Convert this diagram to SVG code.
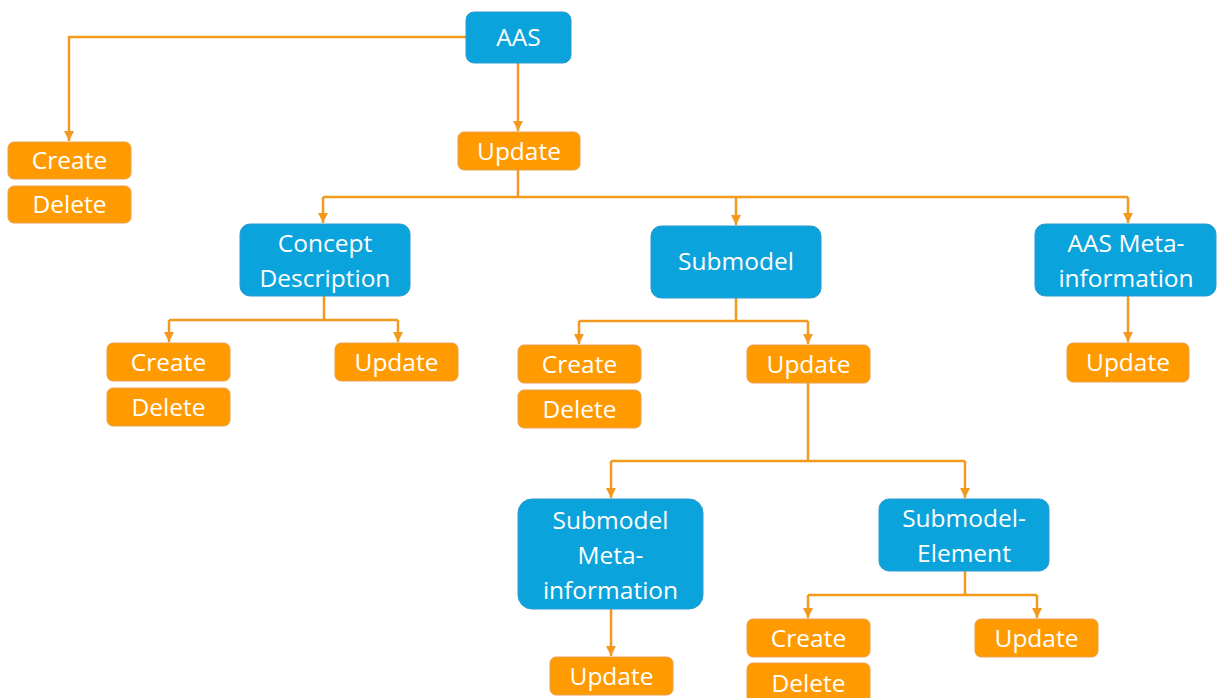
<svg xmlns="http://www.w3.org/2000/svg" width="1217" height="698" viewBox="0 0 1217 698">
  <defs>
    <marker id="arr" markerWidth="10" markerHeight="10" refX="10" refY="5" orient="auto" markerUnits="userSpaceOnUse" viewBox="0 0 10 10">
      <path d="M0,0 L10,5 L0,10 Z" fill="#f39a1e"/>
    </marker>
    <style>
      .blue { fill: #0ba3dc; stroke: #2a9bd0; stroke-width: 1; }
      .orng { fill: #ff9b00; stroke: #e8a050; stroke-width: 1; }
      .lbl { font-family: "Open Sans", "Liberation Sans", sans-serif; font-size: 24.5px; fill: #ffffff; text-anchor: middle; }
      .wire { fill: none; stroke: #f39a1e; stroke-width: 2.5; }
      .tip { marker-end: url(#arr); }
    </style>
  </defs>
  <rect width="1217" height="698" fill="#ffffff"/>

  <!-- connectors -->
  <g id="connectors">
    <path class="wire tip" d="M466,37 H69 V141"/>
    <path class="wire tip" d="M518,63 V131"/>
    <path class="wire" d="M518,170 V197 M323,197 H1128"/>
    <path class="wire tip" d="M323,197 V223"/>
    <path class="wire tip" d="M736,197 V225"/>
    <path class="wire tip" d="M1128,197 V223"/>
    <path class="wire" d="M324,296 V320 M169,320 H398"/>
    <path class="wire tip" d="M169,320 V342"/>
    <path class="wire tip" d="M398,320 V342"/>
    <path class="wire" d="M736,298 V321 M579,321 H808"/>
    <path class="wire tip" d="M579,321 V344"/>
    <path class="wire tip" d="M808,321 V344"/>
    <path class="wire tip" d="M1128,296 V342"/>
    <path class="wire" d="M808,383 V461 M611,461 H965"/>
    <path class="wire tip" d="M611,461 V498"/>
    <path class="wire tip" d="M965,461 V498"/>
    <path class="wire tip" d="M611,609 V656"/>
    <path class="wire" d="M965,571 V595 M808,595 H1037"/>
    <path class="wire tip" d="M808,595 V618"/>
    <path class="wire tip" d="M1037,595 V618"/>
  </g>

  <!-- top level -->
  <g id="aas">
    <rect class="blue" x="466" y="12" width="105" height="51" rx="8"/>
    <text class="lbl" x="518.5" y="46">AAS</text>
  </g>
  <g id="aas-create">
    <rect class="orng" x="8" y="142" width="123" height="37" rx="6"/>
    <text class="lbl" x="69.5" y="169">Create</text>
  </g>
  <g id="aas-delete">
    <rect class="orng" x="8" y="186" width="123" height="37" rx="6"/>
    <text class="lbl" x="69.5" y="213">Delete</text>
  </g>
  <g id="aas-update">
    <rect class="orng" x="458" y="132" width="122" height="38" rx="6"/>
    <text class="lbl" x="519" y="160">Update</text>
  </g>

  <!-- second level -->
  <g id="concept-description">
    <rect class="blue" x="240" y="224" width="170" height="72" rx="10"/>
    <text class="lbl" x="325" y="252">Concept</text>
    <text class="lbl" x="325" y="287">Description</text>
  </g>
  <g id="submodel">
    <rect class="blue" x="651" y="226" width="170" height="72" rx="10"/>
    <text class="lbl" x="736" y="270">Submodel</text>
  </g>
  <g id="aas-meta">
    <rect class="blue" x="1035" y="224" width="181" height="72" rx="10"/>
    <text class="lbl" x="1126" y="252">AAS Meta-</text>
    <text class="lbl" x="1126" y="287">information</text>
  </g>

  <!-- concept description operations -->
  <g id="cd-create">
    <rect class="orng" x="107" y="343" width="123" height="38" rx="6"/>
    <text class="lbl" x="168.5" y="371">Create</text>
  </g>
  <g id="cd-delete">
    <rect class="orng" x="107" y="388" width="123" height="38" rx="6"/>
    <text class="lbl" x="168.5" y="416">Delete</text>
  </g>
  <g id="cd-update">
    <rect class="orng" x="335" y="343" width="123" height="38" rx="6"/>
    <text class="lbl" x="396.5" y="371">Update</text>
  </g>

  <!-- submodel operations -->
  <g id="sm-create">
    <rect class="orng" x="518" y="345" width="123" height="38" rx="6"/>
    <text class="lbl" x="579.5" y="373">Create</text>
  </g>
  <g id="sm-delete">
    <rect class="orng" x="518" y="390" width="123" height="38" rx="6"/>
    <text class="lbl" x="579.5" y="418">Delete</text>
  </g>
  <g id="sm-update">
    <rect class="orng" x="747" y="345" width="123" height="38" rx="6"/>
    <text class="lbl" x="808.5" y="373">Update</text>
  </g>

  <!-- AAS meta-information operation -->
  <g id="meta-update">
    <rect class="orng" x="1067" y="343" width="122" height="39" rx="6"/>
    <text class="lbl" x="1128" y="371">Update</text>
  </g>

  <!-- third level -->
  <g id="submodel-meta">
    <rect class="blue" x="518" y="499" width="185" height="110" rx="14"/>
    <text class="lbl" x="610.5" y="529">Submodel</text>
    <text class="lbl" x="610.5" y="564">Meta-</text>
    <text class="lbl" x="610.5" y="599">information</text>
  </g>
  <g id="submodel-element">
    <rect class="blue" x="879" y="499" width="170" height="72" rx="10"/>
    <text class="lbl" x="964" y="527">Submodel-</text>
    <text class="lbl" x="964" y="562">Element</text>
  </g>

  <!-- leaf operations -->
  <g id="smm-update">
    <rect class="orng" x="550" y="657" width="123" height="38" rx="6"/>
    <text class="lbl" x="611.5" y="685">Update</text>
  </g>
  <g id="sme-create">
    <rect class="orng" x="747" y="619" width="123" height="38" rx="6"/>
    <text class="lbl" x="808.5" y="647">Create</text>
  </g>
  <g id="sme-delete">
    <rect class="orng" x="747" y="663" width="123" height="40" rx="6"/>
    <text class="lbl" x="808.5" y="692">Delete</text>
  </g>
  <g id="sme-update">
    <rect class="orng" x="975" y="619" width="123" height="38" rx="6"/>
    <text class="lbl" x="1036.5" y="647">Update</text>
  </g>
</svg>
